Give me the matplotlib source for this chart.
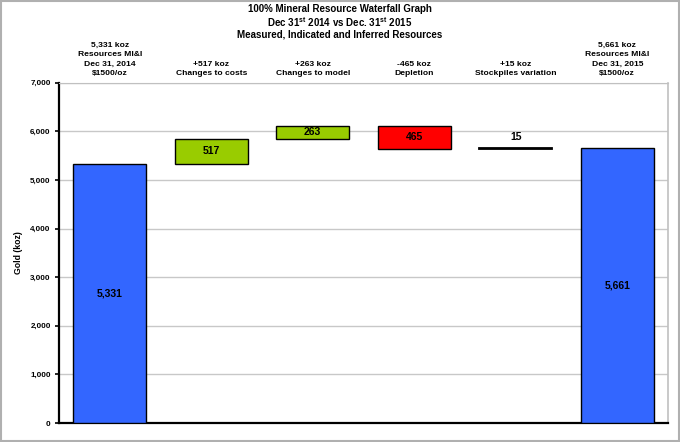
#!/usr/bin/env python3
"""Mineral resource waterfall chart, Dec 2014 vs Dec 2015."""

import matplotlib
matplotlib.use('Agg')
import matplotlib.pyplot as plt
from matplotlib.patches import Rectangle
import numpy as np

# ── Data ───────────────────────────────────────────────────────────────

START_VALUE = 5331
END_VALUE = 5661
DELTAS = [517, 263, -465, 15]

TOP_LABELS = [
    "5,331 koz\nResources MI&I\nDec 31, 2014\n$1500/oz",
    "+517 koz\nChanges to costs",
    "+263 koz\nChanges to model",
    "-465 koz\nDepletion",
    "+15 koz\nStockpiles variation",
    "5,661 koz\nResources MI&I\nDec 31, 2015\n$1500/oz",
]
BAR_LABELS = ["5,331", "517", "263", "465", "15", "5,661"]
Y_TICKS = [0, 1000, 2000, 3000, 4000, 5000, 6000, 7000]

BLUE = '#3366FF'
GREEN = '#99CC00'
RED = '#FF0000'

plt.rcParams['font.family'] = ['Liberation Sans Narrow', 'Liberation Sans', 'DejaVu Sans']
plt.rcParams['mathtext.fontset'] = 'custom'
plt.rcParams['mathtext.bf'] = 'Liberation Sans:bold'
plt.rcParams['mathtext.rm'] = 'Liberation Sans:bold'
plt.rcParams['mathtext.default'] = 'bf'

# ── Waterfall geometry from the data ───────────────────────────────────

bottoms, heights, colors = [0], [START_VALUE], [BLUE]
running = START_VALUE
for d in DELTAS:
    if d >= 0:
        bottoms.append(running)
        colors.append(GREEN)
    else:
        bottoms.append(running + d)
        colors.append(RED)
    heights.append(abs(d))
    running += d
bottoms.append(0)
heights.append(END_VALUE)
colors.append(BLUE)

x = np.arange(len(heights))

fig = plt.figure(figsize=(6.8, 4.42), dpi=100)
ax = fig.add_axes([59 / 680, 19 / 442, 609 / 680, 340.3 / 442])

bars = ax.bar(x, heights, bottom=bottoms, width=0.72, color=colors,
              edgecolor='black', linewidth=1.0, zorder=3)
# the tiny stockpile change is drawn as a thick line
bars[4].set_facecolor('black')
bars[4].set_linewidth(1.3)

for i, (b, h, lab) in enumerate(zip(bottoms, heights, BAR_LABELS)):
    if i == 4:
        ax.text(x[i], b + h + 110, lab, ha='center', va='bottom',
                fontsize=7.5, fontweight='bold', family='Liberation Sans')
    else:
        ax.text(x[i], b + h / 2, lab, ha='center', va='center',
                fontsize=7.5, fontweight='bold', family='Liberation Sans')

# category captions above the plot area
for i, lab in enumerate(TOP_LABELS):
    ax.text(x[i], 7000 + 110, lab, ha='center', va='bottom',
            fontsize=6.1, fontweight='bold', linespacing=1.5)

ax.set_xlim(-0.5, len(heights) - 0.5)
ax.set_ylim(0, 7000)
ax.set_yticks(Y_TICKS)
ax.set_yticklabels([f"{v:,}" for v in Y_TICKS], fontsize=5.8,
                   fontweight='bold', family='Liberation Sans')
ax.set_xticks([])
ax.tick_params(axis='y', length=3, width=1.2, pad=3)
ax.set_ylabel('Gold (koz)', fontsize=6.3, fontweight='bold',
              family='Liberation Sans', labelpad=5)

ax.grid(axis='y', color='#C8C8C8', linewidth=1.0, zorder=0)
ax.set_axisbelow(True)
ax.spines['left'].set_linewidth(1.6)
ax.spines['bottom'].set_linewidth(1.6)
ax.spines['top'].set_color('#C0C0C0')
ax.spines['right'].set_color('#C0C0C0')
ax.spines['right'].set_linewidth(1.2)

title_lines = [
    "100% Mineral Resource Waterfall Graph",
    r"Dec 31$^{st}$ 2014 vs Dec. 31$^{st}$ 2015",
    "Measured, Indicated and Inferred Resources",
]
for j, line in enumerate(title_lines):
    fig.text(340 / 680, 1 - (9.5 + 12.5 * j) / 442, line, ha='center', va='center',
             fontsize=7.0, fontweight='bold', family='Liberation Sans')

# outer grey frame
fig.patches.append(Rectangle((0.002, 0.003), 0.996, 0.994, transform=fig.transFigure,
                             fill=False, edgecolor='#B0B0B0', linewidth=1.5))

fig.savefig('out.png', dpi=100)
plt.close(fig)
